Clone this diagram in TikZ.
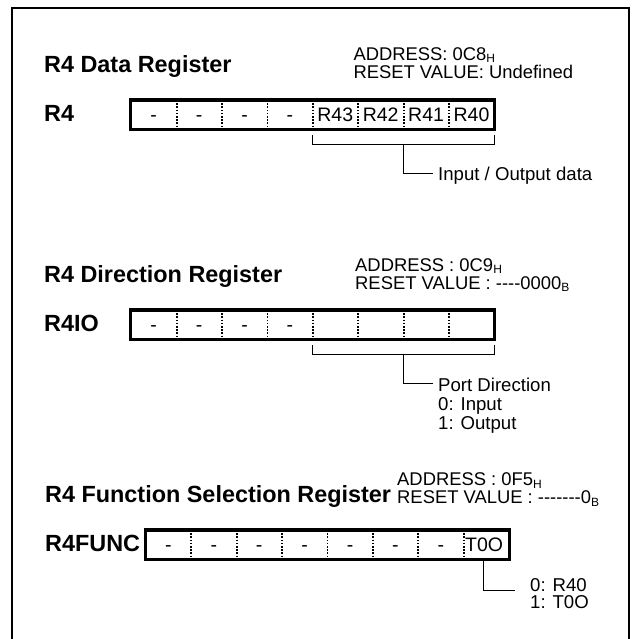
\documentclass[tikz,border=0pt]{standalone}
\usepackage{fontspec}
\setmainfont{Liberation Sans}[Ligatures=TeXOff]
\usetikzlibrary{calc}
\newcommand{\regsub}[1]{\raisebox{-2.5pt}{\fontsize{12}{12}\selectfont #1}}
\begin{document}
\begin{tikzpicture}[x=1pt,y=-1pt,
  frame/.style={line width=2.2pt},
  regtitle/.style={anchor=base west, inner sep=0pt, font=\fontsize{23.4}{28}\selectfont\bfseries},
  addr/.style={anchor=base west, inner sep=0pt, font=\fontsize{18.4}{20}\selectfont},
  cell/.style={minimum width=45.4pt, minimum height=29pt, inner sep=0pt, text height=14.4pt, text depth=0pt, font=\fontsize{19.5}{20}\selectfont, anchor=north west},
  regbox/.style={line width=3.2pt},
  divider/.style={line width=1.8pt, dash pattern=on 1.6pt off 1.6pt},
  bracket/.style={line width=0.9pt},
  note/.style={anchor=base west, inner sep=0pt, font=\fontsize{18.6}{20}\selectfont}]
\useasboundingbox (0,0) rectangle (632,639);
\clip (0,0) rectangle (632,639);
\draw[frame] (12,660) -- (12,8) -- (629,8) -- (629,660);

% ---------- Section 1: R4 Data Register ----------
\node[regtitle] (t1) at (44,72.5) {R4 Data Register};
\node[addr] (ad1) at (353.3,60.5) {ADDRESS: 0C8\regsub{H}};
\node[addr] (rv1) at (353.3,78.5) {RESET VALUE: Undefined};
\node[regtitle] (n1) at (44,121.7) {R4};
\foreach \t [count=\i] in {-,-,-,-,R43,R42,R41,R40}
  \node[cell] (A\i) at ({130.8+(\i-1)*45.4},100) {\t};
\foreach \i in {1,...,7} \draw[divider] (A\i.north east) -- (A\i.south east);
\draw[regbox] (A1.north west) rectangle (A8.south east);
\coordinate (m1) at ($(A5.south west)!0.5!(A8.south east)$);
\draw[bracket] ([yshift=-6pt]A5.south west) -- ([yshift=-15.5pt]A5.south west)
  -- ([yshift=-15.5pt]A8.south east) -- ([yshift=-6pt]A8.south east);
\coordinate (e1) at (433,173);
\draw[bracket] ([yshift=-15.5pt]m1) |- (e1);
\node[note] (l1) at (438,181) {Input / Output data};

% ---------- Section 2: R4 Direction Register ----------
\node[regtitle] (t2) at (44,282) {R4 Direction Register};
\node[addr] (ad2) at (355,271) {ADDRESS : 0C9\regsub{H}};
\node[addr] (rv2) at (355,289) {RESET VALUE : ----0000\regsub{B}};
\node[regtitle] (n2) at (44,331.7) {R4IO};
\foreach \t [count=\i] in {-,-,-,-,{},{},{},{}}
  \node[cell] (B\i) at ({130.8+(\i-1)*45.4},310) {\t};
\foreach \i in {1,...,7} \draw[divider] (B\i.north east) -- (B\i.south east);
\draw[regbox] (B1.north west) rectangle (B8.south east);
\coordinate (m2) at ($(B5.south west)!0.5!(B8.south east)$);
\draw[bracket] ([yshift=-6pt]B5.south west) -- ([yshift=-15.5pt]B5.south west)
  -- ([yshift=-15.5pt]B8.south east) -- ([yshift=-6pt]B8.south east);
\coordinate (e2) at (433,383);
\draw[bracket] ([yshift=-15.5pt]m2) |- (e2);
\node[note] (l2a) at (438,391) {Port Direction};
\node[note] (l2b) at (438,410) {0: Input};
\node[note] (l2c) at (438,429) {1: Output};

% ---------- Section 3: R4 Function Selection Register ----------
\node[regtitle] (t3) at (45,502.7) {R4 Function Selection Register};
\node[addr] (ad3) at (397,485.5) {ADDRESS : 0F5\regsub{H}};
\node[addr] (rv3) at (397,503.5) {RESET VALUE : -------0\regsub{B}};
\node[regtitle] (n3) at (45,551.7) {R4FUNC};
\foreach \t [count=\i] in {-,-,-,-,-,-,-}
  \node[cell] (C\i) at ({145.5+(\i-1)*45.4},530) {\t};
\node[cell] (C8) at ({145.5+7*45.4},530) {\makebox[42pt][l]{T0O}};
\foreach \i in {1,...,7} \draw[divider] (C\i.north east) -- (C\i.south east);
\draw[regbox] (C1.north west) rectangle (C8.south east);
\coordinate (e3) at (515,590);
\draw[bracket] ([xshift=-2.7pt]C8.south) |- (e3);
\node[note] (l3a) at (530,591) {0: R40};
\node[note] (l3b) at (530,608) {1: T0O};
\end{tikzpicture}
\end{document}
